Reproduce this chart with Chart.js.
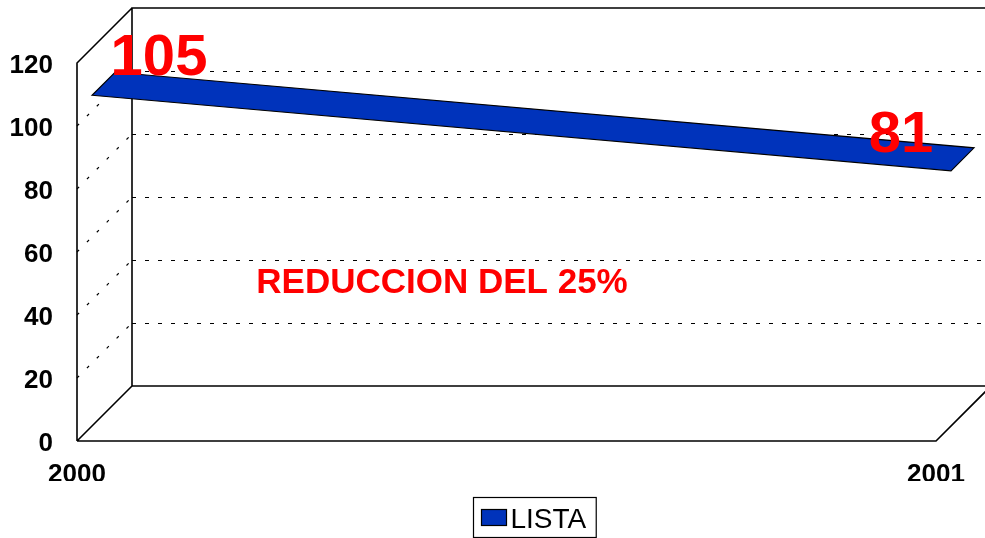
<!DOCTYPE html>
<html>
<head>
<meta charset="utf-8">
<script src="https://cdn.jsdelivr.net/npm/chart.js@4"></script>
<style>
  html, body { margin: 0; padding: 0; background: #fff; }
  #wrap { width: 985px; height: 538px; }
</style>
</head>
<body>
<div id="wrap"><canvas id="chart"></canvas></div>
<script>
const years = ["2000", "2001"];
const lista = [105, 81];
const yTicks = [0, 20, 40, 60, 80, 100, 120];
const seriesName = "LISTA";
const note = "REDUCCION DEL 25%";

const FONT = '"Liberation Sans", Arial, sans-serif';
const DEPTH = 55; // 3d depth offset of the back wall
const RIB_FRONT = 15, RIB_BACK = 38; // ribbon position inside the depth
const blue = "#0033bb";

// draws the excel-like 3d box, ribbon, labels and legend
const box3d = {
  id: "box3d",
  beforeDatasetsDraw(chart) {
    const ctx = chart.ctx;
    const a = chart.chartArea;
    const y = chart.scales.y;
    const L = a.left, R = a.right, T = a.top, B = a.bottom;
    ctx.save();
    ctx.strokeStyle = "#000";

    // dashed gridlines on back wall
    ctx.lineWidth = 1;
    ctx.setLineDash([4, 9]);
    yTicks.slice(1, -1).forEach(v => {
      const py = Math.round(y.getPixelForValue(v) - DEPTH) + 0.5;
      ctx.beginPath();
      ctx.moveTo(L + DEPTH, py);
      ctx.lineTo(R + DEPTH, py);
      ctx.stroke();
    });
    // dotted diagonals on side wall
    ctx.lineWidth = 1.2;
    ctx.setLineDash([3, 11]);
    yTicks.slice(1, -1).forEach(v => {
      const py = y.getPixelForValue(v);
      ctx.beginPath();
      ctx.moveTo(L, py);
      ctx.lineTo(L + DEPTH, py - DEPTH);
      ctx.stroke();
    });
    ctx.setLineDash([]);

    // box edges
    ctx.lineWidth = 1.6;
    ctx.beginPath();
    // side wall
    ctx.moveTo(L, B); ctx.lineTo(L, T); ctx.lineTo(L + DEPTH, T - DEPTH);
    ctx.moveTo(L, B); ctx.lineTo(L + DEPTH, B - DEPTH);
    // back wall
    ctx.moveTo(L + DEPTH, B - DEPTH); ctx.lineTo(L + DEPTH, T - DEPTH);
    ctx.lineTo(R + DEPTH, T - DEPTH);
    ctx.moveTo(L + DEPTH, B - DEPTH); ctx.lineTo(R + DEPTH, B - DEPTH);
    // floor
    ctx.moveTo(L, B); ctx.lineTo(R, B); ctx.lineTo(R + DEPTH, B - DEPTH);
    ctx.stroke();

    // note on the back wall
    ctx.fillStyle = "#ff0000";
    ctx.font = "bold 35px " + FONT;
    ctx.textAlign = "center";
    ctx.textBaseline = "alphabetic";
    ctx.fillText(note, 442, y.getPixelForValue(30) - DEPTH + 1);
    ctx.restore();
  },
  afterDatasetsDraw(chart) {
    const ctx = chart.ctx;
    const pts = chart.getDatasetMeta(0).data;
    ctx.save();
    // ribbon
    ctx.beginPath();
    pts.forEach((p, i) => {
      const f = i ? ctx.lineTo.bind(ctx) : ctx.moveTo.bind(ctx);
      f(p.x + RIB_FRONT, p.y - RIB_FRONT);
    });
    for (let i = pts.length - 1; i >= 0; i--) {
      ctx.lineTo(pts[i].x + RIB_BACK, pts[i].y - RIB_BACK);
    }
    ctx.closePath();
    ctx.fillStyle = blue;
    ctx.fill();
    ctx.lineWidth = 1.2;
    ctx.strokeStyle = "#000";
    ctx.stroke();

    // value labels
    const offs = [[82, -35], [-35, -34]];
    ctx.fillStyle = "#ff0000";
    ctx.font = "bold 58px " + FONT;
    ctx.textAlign = "center";
    ctx.textBaseline = "alphabetic";
    pts.forEach((p, i) => {
      ctx.fillText(String(lista[i]), p.x + offs[i][0], p.y + offs[i][1]);
    });

    // legend with frame
    const ds = chart.data.datasets[0];
    ctx.font = "28px " + FONT;
    const tw = ctx.measureText(ds.label).width;
    const bw = 8 + 25 + 5 + tw + 9;
    const bx = 473.5, by = 497.5;
    ctx.lineWidth = 1.2;
    ctx.strokeStyle = "#000";
    ctx.fillStyle = "#fff";
    ctx.fillRect(bx, by, bw, 40);
    ctx.strokeRect(bx, by, bw, 40);
    ctx.fillStyle = ds.backgroundColor;
    ctx.fillRect(bx + 8, by + 12, 25, 16);
    ctx.strokeRect(bx + 8, by + 12, 25, 16);
    ctx.fillStyle = "#000";
    ctx.textAlign = "left";
    ctx.textBaseline = "alphabetic";
    ctx.fillText(ds.label, bx + 37, by + 30);
    ctx.restore();
  }
};

new Chart(document.getElementById("chart"), {
  type: "line",
  data: {
    labels: years,
    datasets: [{
      label: seriesName,
      data: lista,
      backgroundColor: blue,
      borderColor: blue,
      showLine: false,
      pointRadius: 0
    }]
  },
  plugins: [box3d],
  options: {
    responsive: true,
    maintainAspectRatio: false,
    animation: false,
    layout: { padding: { top: 63, left: 0, right: 49, bottom: 57 } },
    plugins: {
      legend: { display: false },
      tooltip: { enabled: false }
    },
    scales: {
      x: {
        offset: false,
        grid: { display: false, drawTicks: false },
        border: { display: false },
        ticks: {
          color: "#000",
          padding: 18,
          maxRotation: 0,
          font: { family: FONT, size: 26, weight: "bold" }
        },
        afterFit(scale) { scale.height = 40; }
      },
      y: {
        min: 0,
        max: 120,
        grid: { display: false, drawTicks: false },
        border: { display: false },
        ticks: {
          stepSize: 20,
          color: "#000",
          padding: 24,
          labelOffset: 3,
          font: { family: FONT, size: 26, weight: "bold" }
        },
        afterFit(scale) { scale.width = 77; }
      }
    }
  }
});
</script>
</body>
</html>
